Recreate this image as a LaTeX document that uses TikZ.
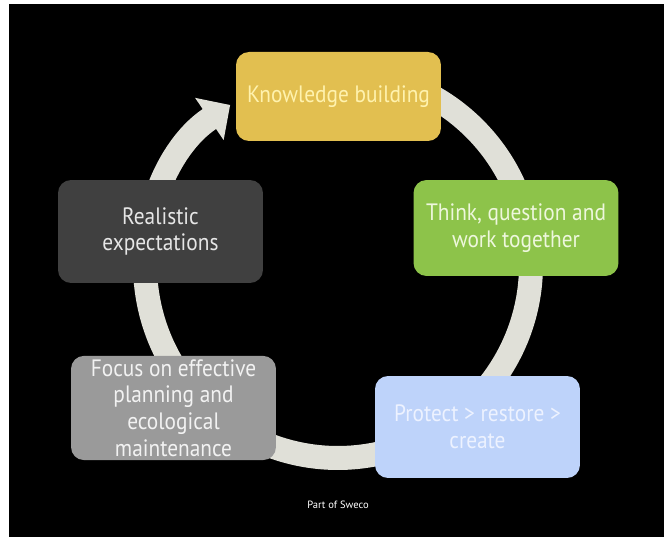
\documentclass[tikz,border=0pt]{standalone}
\usepackage{fontspec}
\setmainfont{PT Sans}
\newfontfamily\stagefont[FakeStretch=0.9]{PT Sans}
\usetikzlibrary{arrows.meta}

\definecolor{ringcol}{HTML}{E0E0D8}
\definecolor{knowcol}{HTML}{E2BF50}
\definecolor{knowtxt}{HTML}{FFF2AE}
\definecolor{thinkcol}{HTML}{8DC34A}
\definecolor{thinktxt}{HTML}{EEF7DD}
\definecolor{realcol}{HTML}{404040}
\definecolor{realtxt}{HTML}{E6E6E6}
\definecolor{focuscol}{HTML}{9A9A9A}
\definecolor{focustxt}{HTML}{F2F2F2}
\definecolor{protcol}{HTML}{BED3FA}
\definecolor{prottxt}{HTML}{EDF2FF}

\tikzset{
	stage/.style={rounded corners=0.26cm, minimum width=4.1cm, align=center, inner sep=2pt,
		font=\stagefont\fontsize{13.5}{15.2}\selectfont},
	ringline/.style={draw=ringcol, line width=0.48cm, line cap=round}
}

\begin{document}
\begin{tikzpicture}[x=0.02cm, y=0.02cm]
	\useasboundingbox (0,0) rectangle (664,537);
	\fill[black] (9,0) rectangle (664,533);
	\coordinate (hub) at (338,272);
	% the cycle arrow behind the stages
	\draw[ringline, -{Triangle[length=0.5cm, width=1.02cm, line width=0pt]}]
		([shift={(100:3.86cm)}]hub) arc[start angle=100, end angle=-236, radius=3.86cm];
	\node[stage, fill=knowcol, text=knowtxt, minimum height=1.78cm] (know) at (338.5,440.5) {Knowledge building};
	\node[stage, fill=thinkcol, text=thinktxt, minimum height=1.92cm] (think) at (516,309) {Think, question and\\work together};
	\node[stage, fill=protcol, text=prottxt, minimum height=2.04cm] (protect) at (477.5,110) {Protect > restore >\\create};
	\node[stage, fill=focuscol, text=focustxt, minimum height=2.04cm] (focus) at (173.5,129) {Focus on effective\\planning and\\ecological\\maintenance};
	\node[stage, fill=realcol, text=realtxt, minimum height=2.06cm] (real) at (160.5,305.5) {Realistic\\expectations};
	\node[text=white, font=\fontsize{6}{7}\selectfont] (sweco) at (338,32) {Part of Sweco};
\end{tikzpicture}
\end{document}
